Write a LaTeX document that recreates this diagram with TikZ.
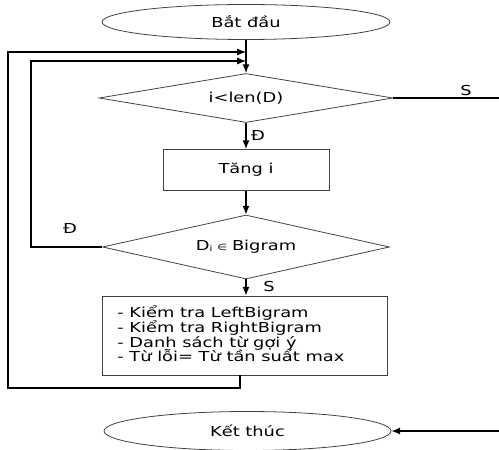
\documentclass[tikz,border=0pt]{standalone}
\usepackage{fontspec}
\setmainfont{DejaVu Sans}[FakeStretch=1.3]
\usetikzlibrary{shapes.geometric,arrows.meta}
\begin{document}
\begin{tikzpicture}[x=0.02cm,y=-0.02cm,
  every node/.style={font=\fontsize{7.8}{8.5}\selectfont},
  shapeline/.style={draw=black!75,line width=0.45pt},
  term/.style={shapeline,ellipse,inner sep=0pt},
  decide/.style={shapeline,diamond,aspect=6,inner sep=0pt},
  proc/.style={shapeline,rectangle,inner sep=0pt},
  flow/.style={line width=0.7pt,-{Latex[length=5pt,width=4pt]}},
  lbl/.style={inner sep=0pt}]
\useasboundingbox (0,0) rectangle (499,449);

% terminals, decisions and processes
\node[term,minimum width=5.76cm,minimum height=0.70cm] (start) at (246,22) {Bắt đầu};
\node[decide,minimum width=5.88cm,minimum height=0.98cm] (d1) at (246,98) {i<len(D)};
\node[proc,minimum width=3.32cm,minimum height=0.82cm] (inc) at (246,170) {Tăng i};
\node[decide,minimum width=5.74cm,minimum height=1.28cm] (d2) at (246,247)
  {D\raisebox{-0.1ex}{\fontsize{4.5}{5}\selectfont i}\hspace{0.35em}{\fontsize{5}{5}\selectfont ∈}\hspace{0.35em}Bigram};
\node[proc,minimum width=5.70cm,minimum height=1.58cm] (work) at (244.5,335.5) {};
\node[lbl,anchor=north west,align=left] (worktxt) at (117,305)
  {- Kiểm tra LeftBigram\\- Kiểm tra RightBigram\\- Danh sách từ gợi ý\\- Từ lỗi= Từ tần suất max};
\node[term,minimum width=5.74cm,minimum height=0.78cm] (end) at (247.5,431) {Kết thúc};

% join points of the two loops
\coordinate (jo) at (246,52);
\coordinate (ji) at (246,61);
\coordinate (outbot) at (240,388);
\coordinate (outleft) at (8,388);
\coordinate (inleft) at (31,247);
\coordinate (rside) at (503,98);

% main flow
\draw[flow] (start.south) -- (d1.north);
\draw[flow] (d1.south) -- (inc.north);
\draw[flow] (inc.south) -- (d2.north);
\draw[flow] (d2.south) -- (d2.south |- work.north);

% loop back from the decision on Bigram
\draw[flow] (d2.west) -- (inleft) |- (ji);
% loop back after the process block
\draw[flow] (work.south -| outbot) -- (outbot) -- (outleft) |- (jo);
% exit branch to the end
\draw[flow] (d1.east) -- (rside) |- (end.east);

% branch labels
\node[lbl] (ls1) at (466,91) {S};
\node[lbl] (ld1) at (258,136) {Đ};
\node[lbl] (ld2) at (70,229) {Đ};
\node[lbl] (ls2) at (269,287) {S};
\end{tikzpicture}
\end{document}
